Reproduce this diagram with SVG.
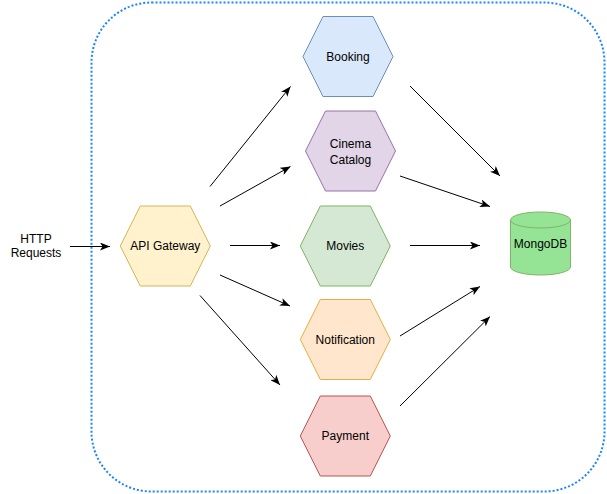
<svg xmlns="http://www.w3.org/2000/svg" width="607" height="494" viewBox="0 0 607 494">
<style>
text{font-family:"Liberation Sans",Arial,Helvetica,sans-serif;font-size:12px;fill:#000;text-anchor:middle}
.c{fill:none;stroke:#000;stroke-width:1}
</style>
<defs>
<marker id="ah" viewBox="0 0 10 8" refX="10" refY="4" markerWidth="10" markerHeight="8" markerUnits="userSpaceOnUse" orient="auto">
<path d="M0,0 L10,4 L0,8 L2.5,4 Z" fill="#000"/>
</marker>
</defs>
<rect id="container" x="91.5" y="2.5" width="513" height="489" rx="60" ry="60" fill="none" stroke="#1a85ff" stroke-width="2" stroke-dasharray="2 2"/>
<g id="http"><text x="36" y="243">HTTP</text><text x="36" y="257">Requests</text></g>
<g id="api"><polygon points="120.3,246 140.3,206 190.3,206 210.3,246 190.3,286 140.3,286" fill="#fff2cc" stroke="#d6b656"/><text x="165.3" y="250">API Gateway</text></g>
<g id="booking"><polygon points="303,56.5 323,16.5 373,16.5 393,56.5 373,96.5 323,96.5" fill="#dae8fc" stroke="#6c8ebf"/><text x="348" y="61">Booking</text></g>
<g id="cinema"><polygon points="305.5,151 325.5,111 375.5,111 395.5,151 375.5,191 325.5,191" fill="#e1d5e7" stroke="#9673a6"/><text x="350.5" y="147.5">Cinema</text><text x="350.5" y="163.5">Catalog</text></g>
<g id="movies"><polygon points="300.3,246 320.3,206 370.3,206 390.3,246 370.3,286 320.3,286" fill="#d5e8d4" stroke="#82b366"/><text x="345.3" y="250">Movies</text></g>
<g id="notification"><polygon points="300.3,339.5 320.3,299.5 370.3,299.5 390.3,339.5 370.3,379.5 320.3,379.5" fill="#ffe6cc" stroke="#e0b040"/><text x="345.3" y="344">Notification</text></g>
<g id="payment"><polygon points="300.3,436 320.3,396 370.3,396 390.3,436 370.3,476 320.3,476" fill="#f8cecc" stroke="#b85450"/><text x="345.3" y="440">Payment</text></g>
<g id="mongodb"><path d="M510.5,220 a30,8 0 0 1 60,0 v47 a30,8 0 0 1 -60,0 z" fill="#95e496" stroke="#82b366"/><path d="M510.5,220 a30,8 0 0 0 60,0" fill="none" stroke="#82b366"/><text x="540.5" y="248">MongoDB</text></g>
<g id="connectors">
<line class="c" x1="70" y1="246.5" x2="110" y2="246.5" marker-end="url(#ah)"/>
<line class="c" x1="210" y1="186.5" x2="290.5" y2="86.5" marker-end="url(#ah)"/>
<line class="c" x1="220" y1="206" x2="290.5" y2="166.5" marker-end="url(#ah)"/>
<line class="c" x1="230" y1="245.5" x2="280" y2="245.5" marker-end="url(#ah)"/>
<line class="c" x1="220" y1="275" x2="290" y2="306" marker-end="url(#ah)"/>
<line class="c" x1="200" y1="295.5" x2="280" y2="385" marker-end="url(#ah)"/>
<line class="c" x1="410" y1="86" x2="500" y2="176" marker-end="url(#ah)"/>
<line class="c" x1="400" y1="176" x2="490" y2="206.5" marker-end="url(#ah)"/>
<line class="c" x1="410" y1="245.5" x2="480" y2="245.5" marker-end="url(#ah)"/>
<line class="c" x1="400" y1="336" x2="480" y2="286.5" marker-end="url(#ah)"/>
<line class="c" x1="400" y1="406" x2="490" y2="316.5" marker-end="url(#ah)"/>
</g>
</svg>
